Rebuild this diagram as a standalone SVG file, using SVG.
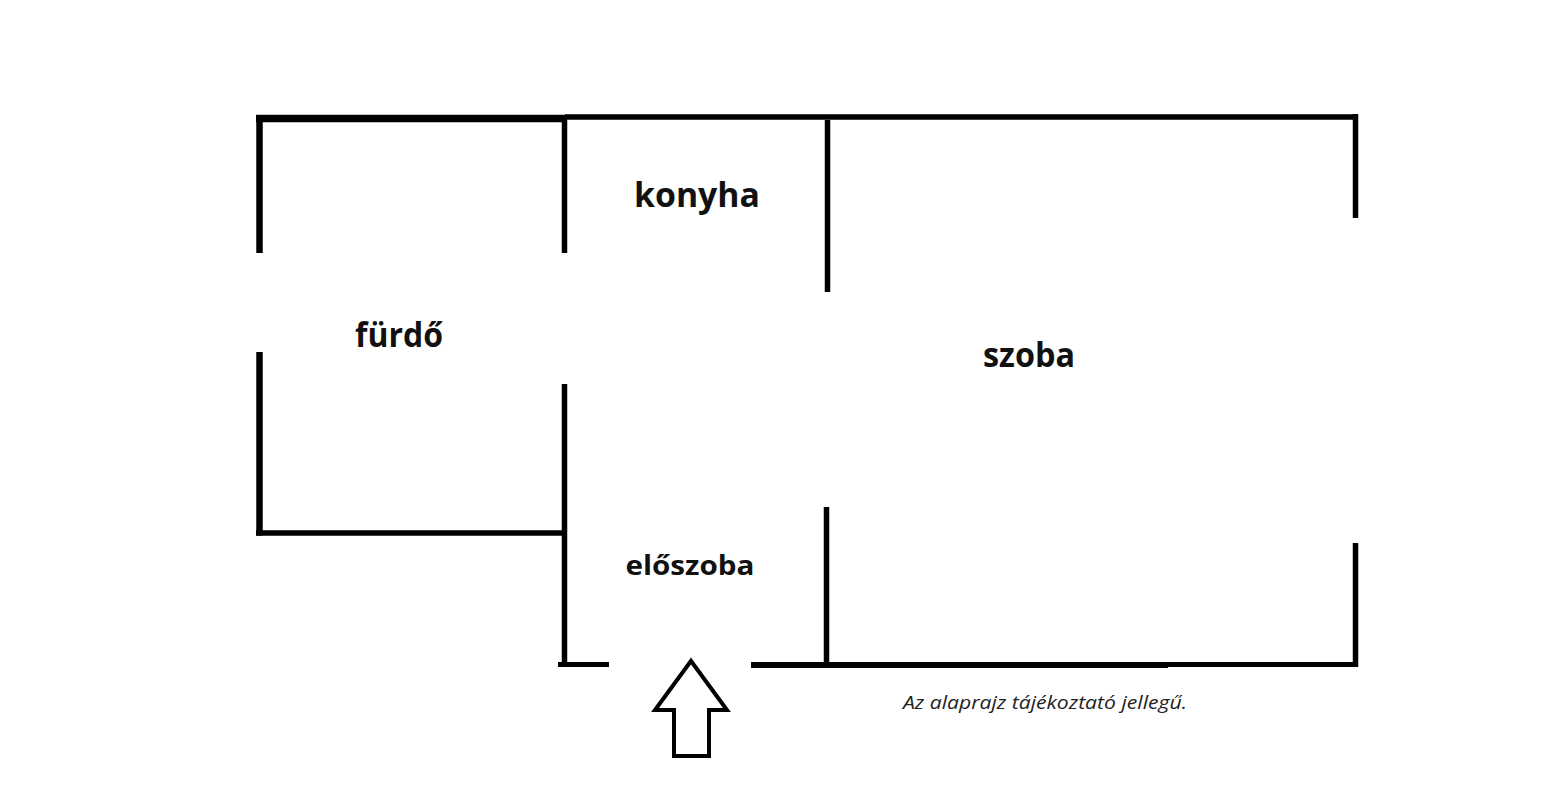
<svg xmlns="http://www.w3.org/2000/svg" width="1547" height="811" viewBox="0 0 1547 811">
<style>
.w{stroke:#000;fill:none;stroke-linecap:butt}
.lbl{font-family:"Open Sans","Noto Sans","Liberation Sans",sans-serif;font-weight:bold;fill:#111;text-anchor:middle}
.note{font-family:"Open Sans","Noto Sans","Liberation Sans",sans-serif;font-style:italic;font-size:19px;fill:#222}
</style>
<rect width="1547" height="811" fill="#fff"/>
<g id="walls">
<line class="w" x1="256" y1="118.5" x2="567" y2="118.5" stroke-width="7.5"/>
<line class="w" x1="565" y1="117" x2="1358" y2="117" stroke-width="5.5"/>
<line class="w" x1="259.5" y1="115" x2="259.5" y2="253" stroke-width="6.5"/>
<line class="w" x1="259.5" y1="352" x2="259.5" y2="535.5" stroke-width="6.5"/>
<line class="w" x1="256" y1="533" x2="567" y2="533" stroke-width="5.5"/>
<line class="w" x1="564.5" y1="120" x2="564.5" y2="253" stroke-width="5.5"/>
<line class="w" x1="564.5" y1="384" x2="564.5" y2="667" stroke-width="5.5"/>
<line class="w" x1="558" y1="664.5" x2="609" y2="664.5" stroke-width="5"/>
<line class="w" x1="827.5" y1="120" x2="827.5" y2="292" stroke-width="5.5"/>
<line class="w" x1="826.5" y1="507" x2="826.5" y2="665" stroke-width="5.5"/>
<line class="w" x1="751" y1="665" x2="1168" y2="665" stroke-width="6"/>
<line class="w" x1="1168" y1="664.5" x2="1358" y2="664.5" stroke-width="5"/>
<line class="w" x1="1355.5" y1="114" x2="1355.5" y2="218" stroke-width="5.5"/>
<line class="w" x1="1355.5" y1="543" x2="1355.5" y2="667" stroke-width="5.5"/>
</g>
<g id="entry-arrow">
<polygon points="691,661 727,710 709,710 709,756 674,756 674,710 655,710" fill="#fff" stroke="#000" stroke-width="4" stroke-linejoin="miter"/>
</g>
<g id="konyha"><text class="lbl" x="697" y="207" font-size="34" textLength="126" lengthAdjust="spacingAndGlyphs">konyha</text></g>
<g id="furdo"><text class="lbl" x="399" y="347" font-size="34" textLength="88" lengthAdjust="spacingAndGlyphs">fürdő</text></g>
<g id="szoba"><text class="lbl" x="1029" y="367" font-size="34" textLength="92" lengthAdjust="spacingAndGlyphs">szoba</text></g>
<g id="eloszoba"><text class="lbl" x="690" y="575" font-size="26" textLength="129" lengthAdjust="spacingAndGlyphs">előszoba</text></g>
<g id="note"><text class="note" x="903" y="709" textLength="284" lengthAdjust="spacingAndGlyphs">Az alaprajz tájékoztató jellegű.</text></g>
</svg>
